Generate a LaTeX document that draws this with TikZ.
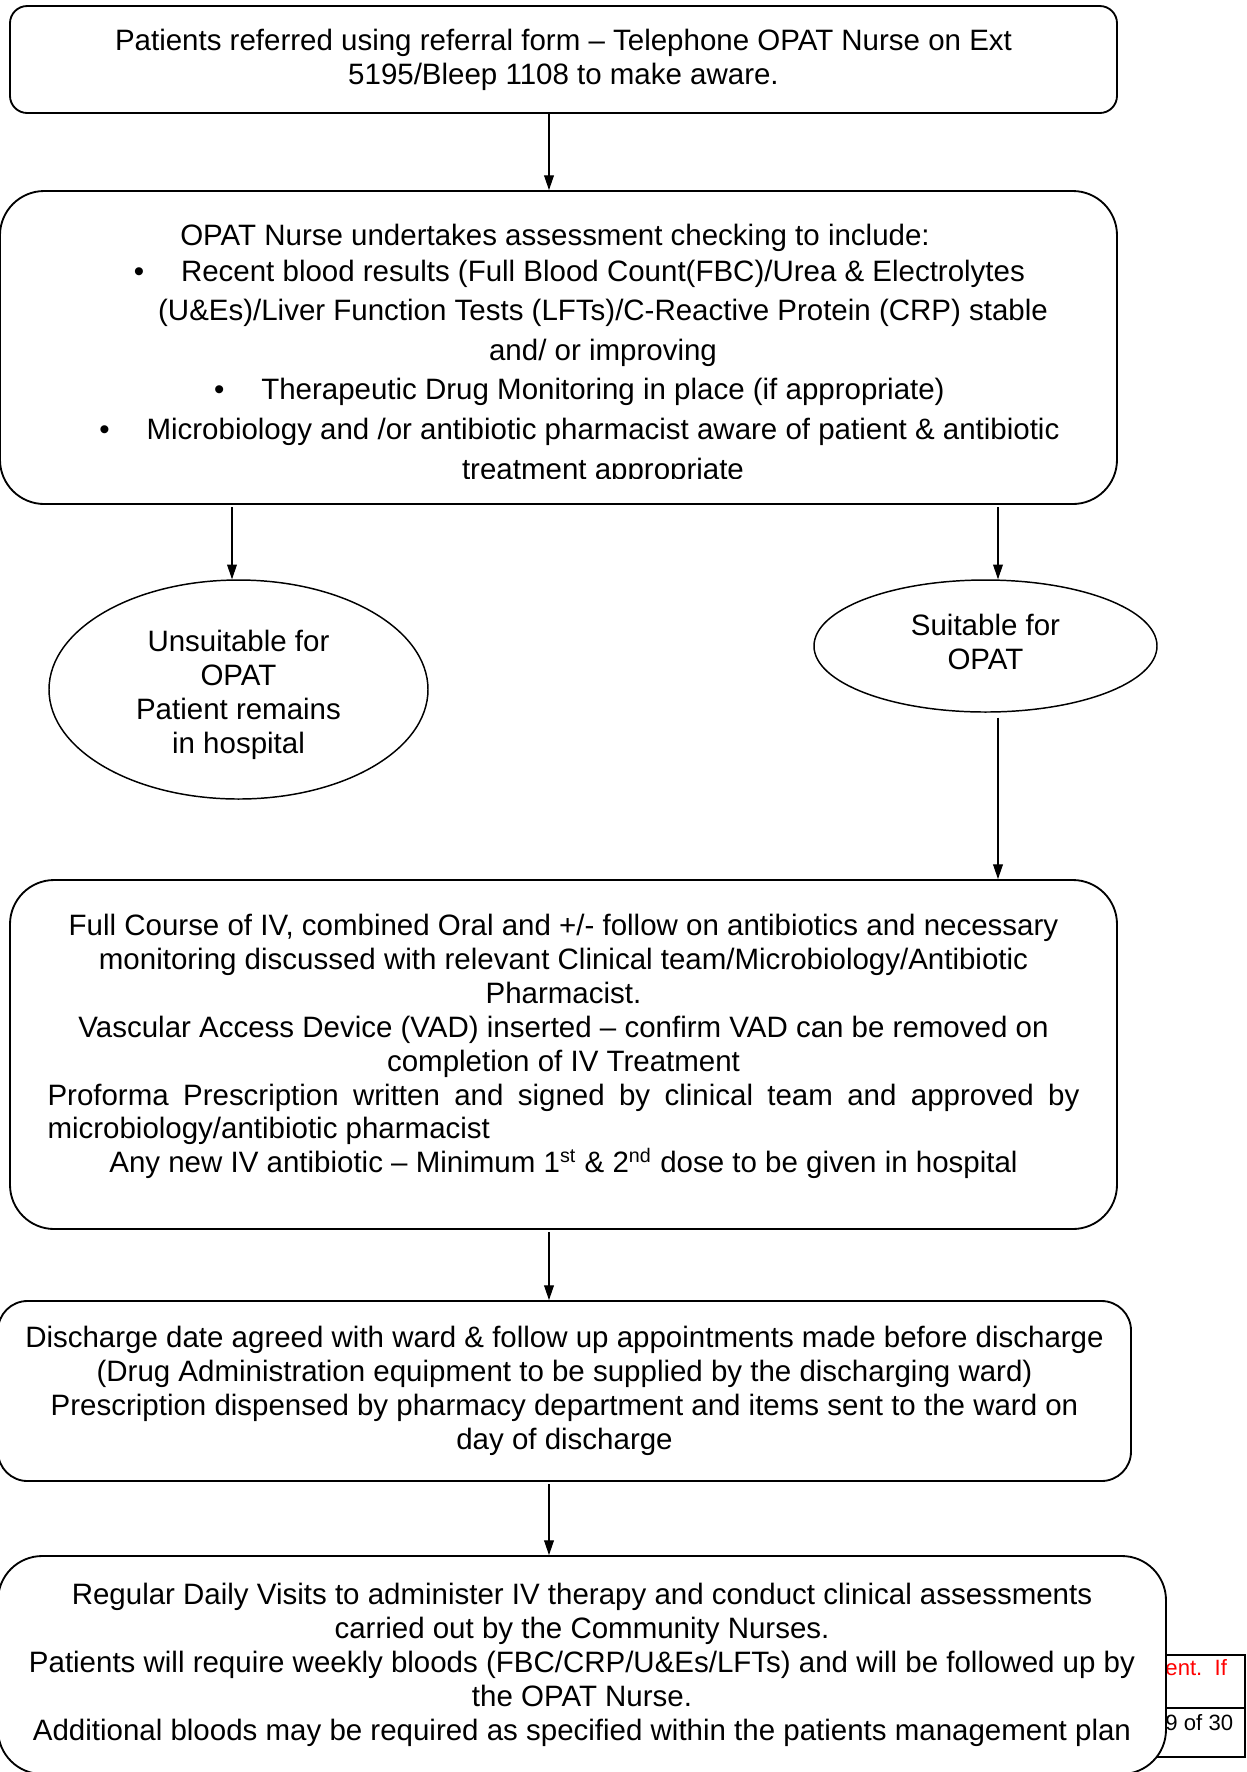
\documentclass[tikz,border=0pt]{standalone}
\usepackage{fontspec}
\setmainfont{Liberation Sans}
\usetikzlibrary{arrows.meta,shapes.geometric}
\tikzset{
    every node/.style={font=\fontsize{12}{13.8}\selectfont, inner sep=0pt},
    flowbox/.style={rectangle, draw, line width=0.75pt, fill=white, align=center},
    oval/.style={ellipse, draw, line width=0.6pt, align=center},
    flowarrow/.style={-{Triangle[length=6pt,width=4pt]}, line width=0.45pt}
}
\newcommand{\bul}{\llap{\textbullet\hspace{15pt}}}

\begin{document}
\begin{tikzpicture}[x=0.407pt, y=-0.407pt]
    \useasboundingbox (0,0) rectangle (1247,1772);
    \coordinate (spine) at (549,0);
    \coordinate (leftLane) at (232,0);
    \coordinate (rightLane) at (998,0);

    \node (referral) [flowbox, rounded corners=7pt, minimum width=1107*0.407pt, minimum height=107*0.407pt] at (563.5,59.5)
        {Patients referred using referral form – Telephone OPAT Nurse on Ext\\5195/Bleep 1108 to make aware.};

    \node (assess) [flowbox, rounded corners=18pt, minimum width=1117*0.407pt, minimum height=313*0.407pt] at (558.5,347.5) {};
    \node (assessTitle) at (555,238) {OPAT Nurse undertakes assessment checking to include:};
    \begin{scope}
        \clip (0,191) rectangle (1117,478);
        \node (assessList) [align=center, font=\fontsize{12}{16.1}\selectfont] at (603,372.5)
            {\bul Recent blood results (Full Blood Count(FBC)/Urea \& Electrolytes\\
             (U\&Es)/Liver Function Tests (LFTs)/C-Reactive Protein (CRP) stable\\
             and/ or improving\\
             \bul Therapeutic Drug Monitoring in place (if appropriate)\\
             \bul Microbiology and /or antibiotic pharmacist aware of patient \& antibiotic\\
             treatment appropriate};
    \end{scope}

    \node (unsuitable) [oval, minimum width=379*0.407pt, minimum height=219*0.407pt] at (238.5,689.5)
        {Unsuitable for\\OPAT\\Patient remains\\in hospital\\[-15.5pt]};
    \node (suitable) [oval, minimum width=343*0.407pt, minimum height=132*0.407pt] at (985.5,646)
        {Suitable for\\OPAT\\[-10.5pt]};

    \node (course) [flowbox, rounded corners=18pt, minimum width=1107*0.407pt, minimum height=349*0.407pt] at (563.5,1054.5)
        {Full Course of IV, combined Oral and +/- follow on antibiotics and necessary\\
         monitoring discussed with relevant Clinical team/Microbiology/Antibiotic\\
         Pharmacist.\\
         Vascular Access Device (VAD) inserted – confirm VAD can be removed on\\
         completion of IV Treatment\\
         \makebox[420pt][s]{Proforma Prescription written and signed by clinical team and approved by}\\
         \makebox[420pt][l]{microbiology/antibiotic pharmacist}\\
         Any new IV antibiotic – Minimum 1\textsuperscript{st} \& 2\textsuperscript{nd} dose to be given in hospital\\[-4.8pt]};

    \node (discharge) [flowbox, rounded corners=12pt, minimum width=1133*0.407pt, minimum height=180*0.407pt] at (564.5,1391)
        {Discharge date agreed with ward \& follow up appointments made before discharge\\
         (Drug Administration equipment to be supplied by the discharging ward)\\
         Prescription dispensed by pharmacy department and items sent to the ward on\\
         day of discharge};

    % footer table behind the last box
    \draw[line width=0.8pt] (1100,1655) rectangle (1245,1757);
    \draw[line width=0.8pt] (1100,1708) -- (1245,1708);
    \node (footNote) [anchor=west, text=red, font=\fontsize{9}{11}\selectfont] at (1165,1668) {ent.\ \ If};
    \node (footPage) [anchor=west, font=\fontsize{9}{11}\selectfont] at (1165,1723) {9 of 30};

    \node (visits) [flowbox, rounded corners=18pt, minimum width=1168*0.407pt, minimum height=218*0.407pt] at (582,1665)
        {Regular Daily Visits to administer IV therapy and conduct clinical assessments\\
         carried out by the Community Nurses.\\
         Patients will require weekly bloods (FBC/CRP/U\&Es/LFTs) and will be followed up by\\
         the OPAT Nurse.\\
         Additional bloods may be required as specified within the patients management plan};

    \draw[flowarrow] (referral.south -| spine) -- (assess.north -| spine);
    \draw[flowarrow, shorten <=1pt] (assess.south -| leftLane) -- (unsuitable.north -| leftLane);
    \draw[flowarrow, shorten <=1pt] (assess.south -| rightLane) -- (suitable.north -| rightLane);
    \draw[flowarrow, shorten <=2pt] (suitable.south -| rightLane) -- (course.north -| rightLane);
    \draw[flowarrow, shorten <=1pt] (course.south -| spine) -- (discharge.north -| spine);
    \draw[flowarrow, shorten <=1pt] (discharge.south -| spine) -- (visits.north -| spine);
\end{tikzpicture}
\end{document}
